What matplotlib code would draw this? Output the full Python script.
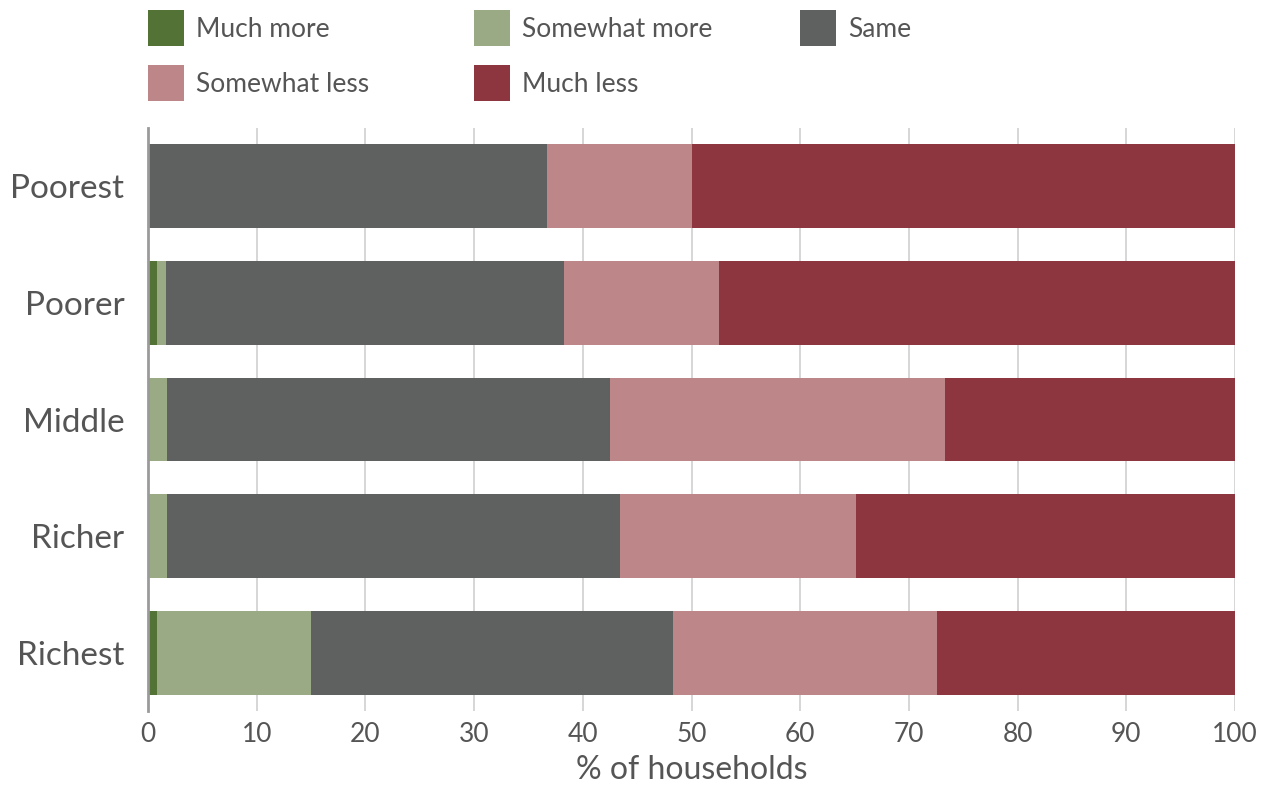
import matplotlib
matplotlib.use("Agg")
import matplotlib.pyplot as plt
import numpy as np

categories = ["Poorest", "Poorer", "Middle", "Richer", "Richest"]
series_names = ["Much more", "Somewhat more", "Same", "Somewhat less", "Much less"]
much_more = [0.0, 0.8, 0.0, 0.0, 0.8]
somewhat_more = [0.0, 0.85, 1.75, 1.75, 14.2]
same = [36.7, 36.65, 40.75, 41.65, 33.3]
somewhat_less = [13.3, 14.2, 30.8, 21.7, 24.3]
much_less = [50.0, 47.5, 26.7, 34.9, 27.4]
colors = ["#527335", "#99aa84", "#5f6160", "#bd878a", "#8e3640"]
xticks = [0, 10, 20, 30, 40, 50, 60, 70, 80, 90, 100]

plt.rcParams['font.family'] = ['Lato', 'DejaVu Sans']
text_color = "#555555"

fig = plt.figure(figsize=(12.62, 7.87), dpi=100)
W, H = 1262, 787
ax = fig.add_axes([148 / W, 1 - 711 / H, (1235 - 148) / W, (711 - 128) / H])

data = [much_more, somewhat_more, same, somewhat_less, much_less]
y = np.arange(len(categories))
left = np.zeros(len(categories))
handles = []
for name, vals, c in zip(series_names, data, colors):
    b = ax.barh(y, vals, left=left, height=0.72, color=c, label=name, zorder=3)
    handles.append(b)
    left += np.array(vals)

ax.set_xlim(0, 100)
ax.set_ylim(4.5, -0.5)
ax.set_yticks(y)
ax.set_yticklabels(categories, fontsize=24, color=text_color)
ax.set_xticks(xticks)
ax.set_xticklabels([str(t) for t in xticks], fontsize=19, color=text_color)
ax.tick_params(axis='y', length=0, pad=17)
ax.tick_params(axis='x', length=0, pad=8)
ax.grid(axis='x', color="#d0d0d0", linewidth=1.2, zorder=0)
for s in ["top", "right", "bottom"]:
    ax.spines[s].set_visible(False)
ax.spines["left"].set_color("#9a9a9a")
ax.spines["left"].set_linewidth(2)
ax.spines["left"].set_zorder(4)
ax.set_xlabel("% of households", fontsize=23, color=text_color, labelpad=6)

fs = 19
col_x = [148, 474, 800]
cols = [[0, 3], [1, 4], [2]]
for cx, idxs in zip(col_x, cols):
    leg = fig.legend(handles=[handles[i] for i in idxs],
                     labels=[series_names[i] for i in idxs],
                     ncol=1, loc="upper left",
                     bbox_to_anchor=(cx / W, 1 - 10 / H),
                     frameon=False, fontsize=fs, handlelength=1.36, handleheight=1.75,
                     handletextpad=0.45, labelspacing=0.70,
                     borderpad=0, borderaxespad=0, labelcolor=text_color)

fig.savefig("out.png", dpi=100)
